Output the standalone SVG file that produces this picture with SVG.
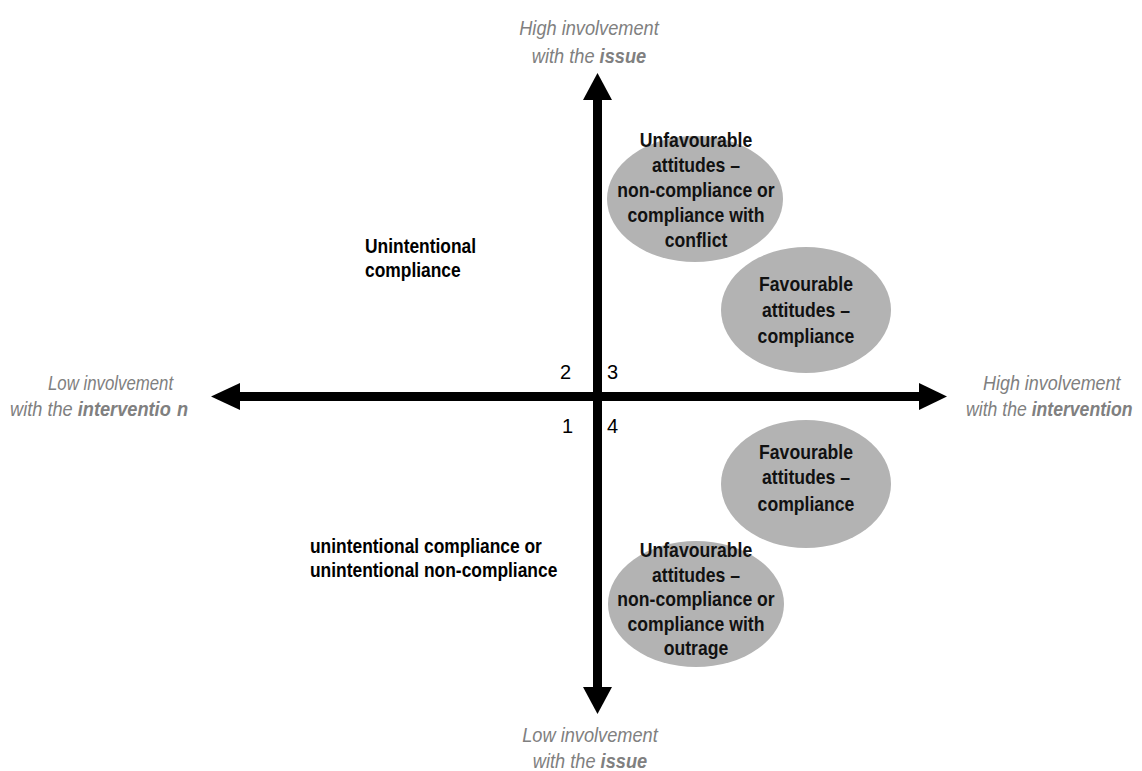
<svg xmlns="http://www.w3.org/2000/svg" width="1142" height="771" viewBox="0 0 1142 771">
<style>
text{font-family:"Liberation Sans",Arimo,Arial,Helvetica,sans-serif}
.axl{font-size:20.5px;font-style:italic;fill:#808080}
.axl .b{font-weight:bold}
.q{font-size:20px;font-weight:bold;fill:#000}
.num{font-size:20px;fill:#000}
.ell{fill:#b3b3b3}
.et{font-size:20px;font-weight:bold;fill:#111;text-anchor:middle}
</style>
<rect width="1142" height="771" fill="#fff"/>
<g id="nodes">
<g id="n-unfav-conflict">
<ellipse class="ell" cx="695" cy="199" rx="88" ry="63"/>
<g transform="translate(696,0) scale(0.88,1)"><text class="et"><tspan x="0" y="147">Unfavourable</tspan><tspan x="0" y="172">attitudes –</tspan><tspan x="0" y="197">non-compliance or</tspan><tspan x="0" y="222">compliance with</tspan><tspan x="0" y="247">conflict</tspan></text></g>
</g>
<g id="n-fav-top">
<ellipse class="ell" cx="806" cy="310" rx="85" ry="63"/>
<g transform="translate(806,0) scale(0.88,1)"><text class="et"><tspan x="0" y="291">Favourable</tspan><tspan x="0" y="317">attitudes –</tspan><tspan x="0" y="343">compliance</tspan></text></g>
</g>
<g id="n-fav-bottom">
<ellipse class="ell" cx="806" cy="484" rx="85" ry="64"/>
<g transform="translate(806,0) scale(0.88,1)"><text class="et"><tspan x="0" y="459">Favourable</tspan><tspan x="0" y="484">attitudes –</tspan><tspan x="0" y="511">compliance</tspan></text></g>
</g>
<g id="n-unfav-outrage">
<ellipse class="ell" cx="696" cy="604" rx="88" ry="63"/>
<g transform="translate(696,0) scale(0.88,1)"><text class="et"><tspan x="0" y="557">Unfavourable</tspan><tspan x="0" y="582">attitudes –</tspan><tspan x="0" y="606">non-compliance or</tspan><tspan x="0" y="631">compliance with</tspan><tspan x="0" y="655">outrage</tspan></text></g>
</g>
<g id="q2">
<g transform="translate(365,0) scale(0.87,1)"><text class="q"><tspan x="0" y="253">Unintentional</tspan><tspan x="0" y="277">compliance</tspan></text></g>
</g>
<g id="q1">
<g transform="translate(310,0) scale(0.87,1)"><text class="q"><tspan x="0" y="553">unintentional compliance or</tspan><tspan x="0" y="577">unintentional non-compliance</tspan></text></g>
</g>
<g id="numbers">
<text class="num" x="560" y="379">2</text>
<text class="num" x="607" y="379">3</text>
<text class="num" x="562" y="433">1</text>
<text class="num" x="607" y="433">4</text>
</g>
<g id="label-top">
<g transform="translate(589,0) scale(0.888,1)"><text class="axl" text-anchor="middle"><tspan x="0" y="35">High involvement</tspan><tspan x="0" y="63">with the <tspan class="b">issue</tspan></tspan></text></g>
</g>
<g id="label-bottom">
<g transform="translate(590,0) scale(0.888,1)"><text class="axl" text-anchor="middle"><tspan x="0" y="742">Low involvement</tspan><tspan x="0" y="768">with the <tspan class="b">issue</tspan></tspan></text></g>
</g>
<g id="label-left">
<g transform="translate(48,0) scale(0.82,1)"><text class="axl" x="0" y="390">Low involvement</text></g>
<g transform="translate(10,0) scale(0.888,1)"><text class="axl" x="0" y="416">with the <tspan class="b">interventio</tspan><tspan class="b" dx="7">n</tspan></text></g>
</g>
<g id="label-right">
<g transform="translate(983,0) scale(0.875,1)"><text class="axl" x="0" y="390">High involvement</text></g>
<g transform="translate(966,0) scale(0.86,1)"><text class="axl" x="0" y="416">with the <tspan class="b">intervention</tspan></text></g>
</g>
</g>
<g id="connectors" fill="#000">
<rect x="593" y="99" width="9" height="589"/>
<polygon points="597.5,73 583,100 612,100"/>
<polygon points="597.5,714 583,687 612,687"/>
<rect x="239" y="392" width="681" height="9"/>
<polygon points="211,396.5 240,383 240,410"/>
<polygon points="947,396.5 919,383 919,410"/>
</g>
</svg>
